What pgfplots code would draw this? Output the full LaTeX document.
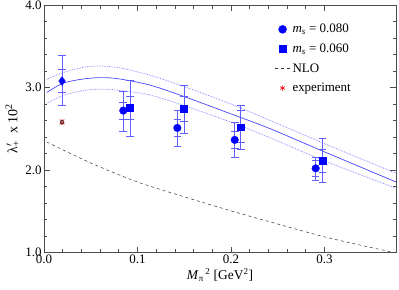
\documentclass[border=0pt]{standalone}
\usepackage{fontspec}
\setmainfont{Liberation Serif}
\usepackage{pgfplots}
\pgfplotsset{compat=1.18}
\definecolor{mk}{RGB}{0,0,255}
\definecolor{eb}{RGB}{95,95,255}
\definecolor{fitc}{RGB}{70,70,255}
\definecolor{dotc}{RGB}{120,120,255}
\newcommand\sub[1]{\mbox{\fontsize{9}{9}\selectfont #1}}
\newcommand\subb[1]{\mbox{\fontsize{10}{10}\selectfont #1}}
\pgfplotsset{shortline/.style={legend image code/.code={\draw[##1] (0.03cm,0) -- (0.57cm,0);}}}
\begin{document}
\begin{tikzpicture}
\path[use as bounding box] (-44bp,-37.5bp) rectangle (355bp,252.5bp);
\begin{axis}[
  at={(0,0)}, anchor=south west,
  scale only axis, width=352bp, height=247.5bp,
  xmin=0, xmax=0.3765, ymin=1, ymax=4,
  xtick={0,0.1,0.2,0.3}, ytick={1,2,3,4},
  minor x tick num=4, minor y tick num=4,
  xticklabels={0.0,0.1,0.2,0.3}, yticklabels={1.0,2.0,3.0,4.0},
  tick align=inside, major tick length=6bp, minor tick length=3.5bp,
  tick style={color=black!70, line width=0.6pt},
  axis line style={color=black!70, line width=0.8pt},
  /pgf/number format/assume math mode=true,
  ticklabel style={font=\fontsize{13}{13}\selectfont},
  xticklabel style={yshift=1.5bp},
  yticklabel style={xshift=1bp},
  xlabel={\textit{M}$_{\sub{π}}$$^{\,\sub{2}}$ [GeV$^{\sub{2}}$]},
  ylabel={λ$'$$_{\!\!\subb{+}}$\ \ x 10$^{\subb{2}}$},
  label style={font=\fontsize{13.5}{13.5}\selectfont},
  xlabel style={yshift=2bp},
  ylabel style={yshift=-1bp, font=\fontsize{14}{14}\selectfont},
  legend style={at={(0.652,0.935)}, anchor=north west, draw=none, fill=none,
    font=\fontsize{13}{13}\selectfont, row sep=5.5bp, inner sep=1bp,
    cells={anchor=west}},
  legend cell align=left,
]
% NLO
\addplot[black!80, dashed, line width=0.5pt, smooth, forget plot] coordinates {
(0.003,2.34) (0.05,2.085) (0.1,1.855) (0.15,1.675) (0.2,1.505) (0.25,1.345) (0.3,1.19) (0.35,1.06) (0.3765,0.995)};
% fit band
\addplot[fitc, line width=0.7pt, smooth, forget plot] coordinates {
(0.003,2.94) (0.02,3.05) (0.04,3.10) (0.06,3.12) (0.08,3.105) (0.113,3.03) (0.15,2.89) (0.2,2.68) (0.242,2.50) (0.3,2.22) (0.3765,1.855)};
\addplot[dotc, densely dotted, line width=0.7pt, smooth, forget plot] coordinates {
(0.003,3.10) (0.02,3.18) (0.04,3.24) (0.056,3.26) (0.08,3.24) (0.113,3.15) (0.15,3.01) (0.2,2.80) (0.242,2.60) (0.3,2.32) (0.3765,1.96)};
\addplot[dotc, densely dotted, line width=0.7pt, smooth, forget plot] coordinates {
(0.003,2.81) (0.02,2.90) (0.04,2.96) (0.06,2.98) (0.08,2.965) (0.113,2.91) (0.15,2.78) (0.2,2.58) (0.242,2.39) (0.3,2.11) (0.3765,1.78)};
% error bars outer
\addplot[only marks, mark=none, forget plot,
  error bars/.cd, y dir=both, y explicit,
  error bar style={color=eb, line width=0.6pt},
  error mark options={rotate=90, mark size=3.8bp, color=eb, line width=0.6pt}]
  table[x=x, y=y, y error plus=ep, y error minus=em] {
x y ep em
0.0193 3.078 0.31 0.29
0.0848 2.72 0.24 0.245
0.1426 2.51 0.21 0.22
0.204 2.365 0.215 0.21
0.2906 2.02 0.14 0.14
0.092 2.755 0.335 0.35
0.1497 2.74 0.29 0.30
0.2104 2.52 0.26 0.27
0.298 2.11 0.27 0.26
};
% error bars inner
\addplot[only marks, mark=none, forget plot,
  error bars/.cd, y dir=both, y explicit,
  error bar style={color=eb, line width=0.6pt},
  error mark options={rotate=90, mark size=3.8bp, color=eb, line width=0.6pt}]
  table[x=x, y=y, y error plus=ep, y error minus=em] {
x y ep em
0.0193 3.078 0.14 0.14
0.0848 2.72 0.10 0.10
0.1426 2.51 0.10 0.10
0.204 2.365 0.10 0.10
0.2906 2.02 0.10 0.10
0.092 2.755 0.135 0.135
0.1497 2.74 0.155 0.15
0.2104 2.52 0.20 0.19
0.298 2.11 0.14 0.14
};
% experiment
\addplot[only marks, mark=none, forget plot,
  error bars/.cd, y dir=both, y explicit,
  error bar style={color=red!25, line width=1.2pt},
  error mark options={rotate=90, mark size=3bp, color=red!25, line width=1.2pt}]
  coordinates {(0.0193,2.58) +- (0,0.03)};
\addplot[only marks, mark=asterisk, mark size=2.6bp, red!60, line width=0.5pt, forget plot]
  coordinates {(0.0193,2.58)};
% marks
\addplot[only marks, mark=diamond*, mark size=4.4bp, mk, forget plot] coordinates {(0.0193,3.078)};
\addplot[only marks, mark=*, mark size=3.8bp, mk, forget plot] coordinates {
(0.0848,2.72) (0.1426,2.51) (0.204,2.365) (0.2906,2.02)};
\addplot[only marks, mark=square*, mark size=3.4bp, mk, forget plot] coordinates {
(0.092,2.755) (0.1497,2.74) (0.2104,2.52) (0.298,2.11)};
% legend
\addlegendimage{only marks, mark=*, mark size=4bp, mk}
\addlegendentry{\textit{m}$_{\sub{\itshape s}}$ = 0.080}
\addlegendimage{only marks, mark=square*, mark size=3.3bp, mk}
\addlegendentry{\textit{m}$_{\sub{\itshape s}}$ = 0.060}
\addlegendimage{black!80, dashed, line width=0.5pt, shortline}
\addlegendentry{NLO}
\addlegendimage{only marks, mark=asterisk, mark size=2.8bp, red, line width=0.6pt}
\addlegendentry{experiment}
\end{axis}
\end{tikzpicture}
\end{document}
